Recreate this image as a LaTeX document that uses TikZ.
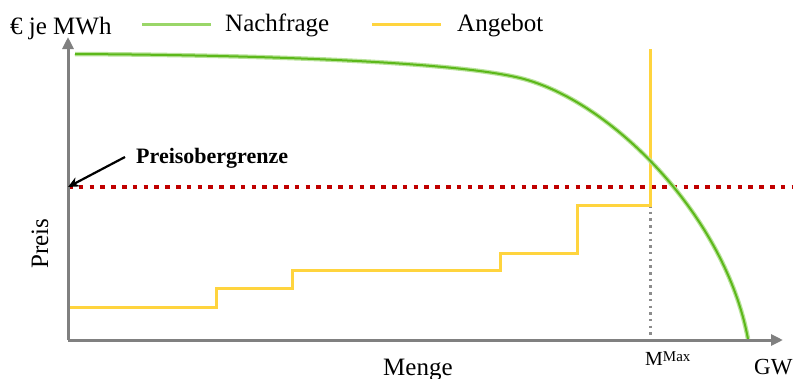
\documentclass[tikz,border=0pt]{standalone}
\usepackage{fontspec}
\setmainfont{Liberation Serif}
\usetikzlibrary{arrows.meta}
\definecolor{axisgrey}{HTML}{808080}
\definecolor{demgreen}{HTML}{5CB81A}
\definecolor{demhalo}{HTML}{B8E29A}
\definecolor{leggreen}{HTML}{9AD668}
\definecolor{supyellow}{HTML}{FFD43E}
\definecolor{capred}{HTML}{C00000}
\definecolor{dotgrey}{HTML}{8C8C8C}
\begin{document}
\begin{tikzpicture}[x=1pt,y=-1pt,
  axis/.style={draw=axisgrey,line width=3pt,-{Triangle[length=12pt,width=11pt]}},
  lbl/.style={anchor=base west,inner sep=0pt,font=\fontsize{25}{29}\selectfont},
  demand/.style={line width=2pt,draw=demgreen},
  demandhalo/.style={line width=4.5pt,draw=demhalo},
  supply/.style={line width=3pt,draw=supyellow},
  capline/.style={line width=4.5pt,draw=capred,dash pattern=on 4.5pt off 6.3pt},
  mline/.style={line width=3pt,draw=dotgrey,dash pattern=on 2.5pt off 4.2pt},
  pointer/.style={line width=2.2pt,-{Stealth[length=11pt,width=10pt]}}]
\useasboundingbox (0,0) rectangle (793,378);
% axes
\coordinate (O) at (68,340);
\coordinate (Ytop) at (68,37);
\coordinate (Xend) at (783,340);
% price cap
\coordinate (CapL) at (68,187);
\coordinate (CapR) at (792,187);
\draw[capline] (CapL) -- (CapR);
% supply
\coordinate (S0) at (68,307);
\coordinate (MTop) at (650,49);
\coordinate (MBot) at (650,340);
\coordinate (MStep) at (650,205);
\draw[mline] (MStep) -- (MBot);
\draw[supply,line join=miter] (S0) -- (216,307) -- (216,288) -- (292,288) -- (292,270) -- (500,270) -- (500,253) -- (577,253) -- (577,205) -- (650,205) -- (MTop);
% demand
\coordinate (D0) at (75,54);
\coordinate (D1) at (520,78);
\coordinate (D2) at (748,339);
\def\dempath{(D0) .. controls (250,55) and (450,61) .. (D1) .. controls (610,100) and (725,215) .. (D2)}
\draw[demandhalo] \dempath;
\draw[demand] \dempath;
\draw[axis] (O) -- (Ytop);
\draw[axis] (O) -- (Xend);
% legend
\coordinate (LG1) at (142,24);
\coordinate (LG2) at (211,24);
\coordinate (LY1) at (372,24);
\coordinate (LY2) at (441,24);
\draw[line width=3pt,draw=leggreen] (LG1) -- (LG2);
\draw[supply] (LY1) -- (LY2);
\node[lbl] (nach) at (225,31) {Nachfrage};
\node[lbl] (ang) at (457,31) {Angebot};
\node[lbl] (unit) at (10,34) {€ je MWh};
% labels
\node[lbl,font=\fontsize{22}{26}\selectfont\bfseries] (cap) at (136,163) {Preisobergrenze};
\draw[pointer] (125,157) -- (CapL);
\node[lbl,rotate=90] (preis) at (48,269) {Preis};
\node[lbl] (menge) at (383,375) {Menge};
\node[lbl,font=\fontsize{20}{24}\selectfont] (mmax) at (645,365) {M\raisebox{4pt}{\fontsize{15}{18}\selectfont Max}};
\node[lbl,font=\fontsize{23}{27}\selectfont] (gw) at (754,374) {GW};
\end{tikzpicture}
\end{document}
